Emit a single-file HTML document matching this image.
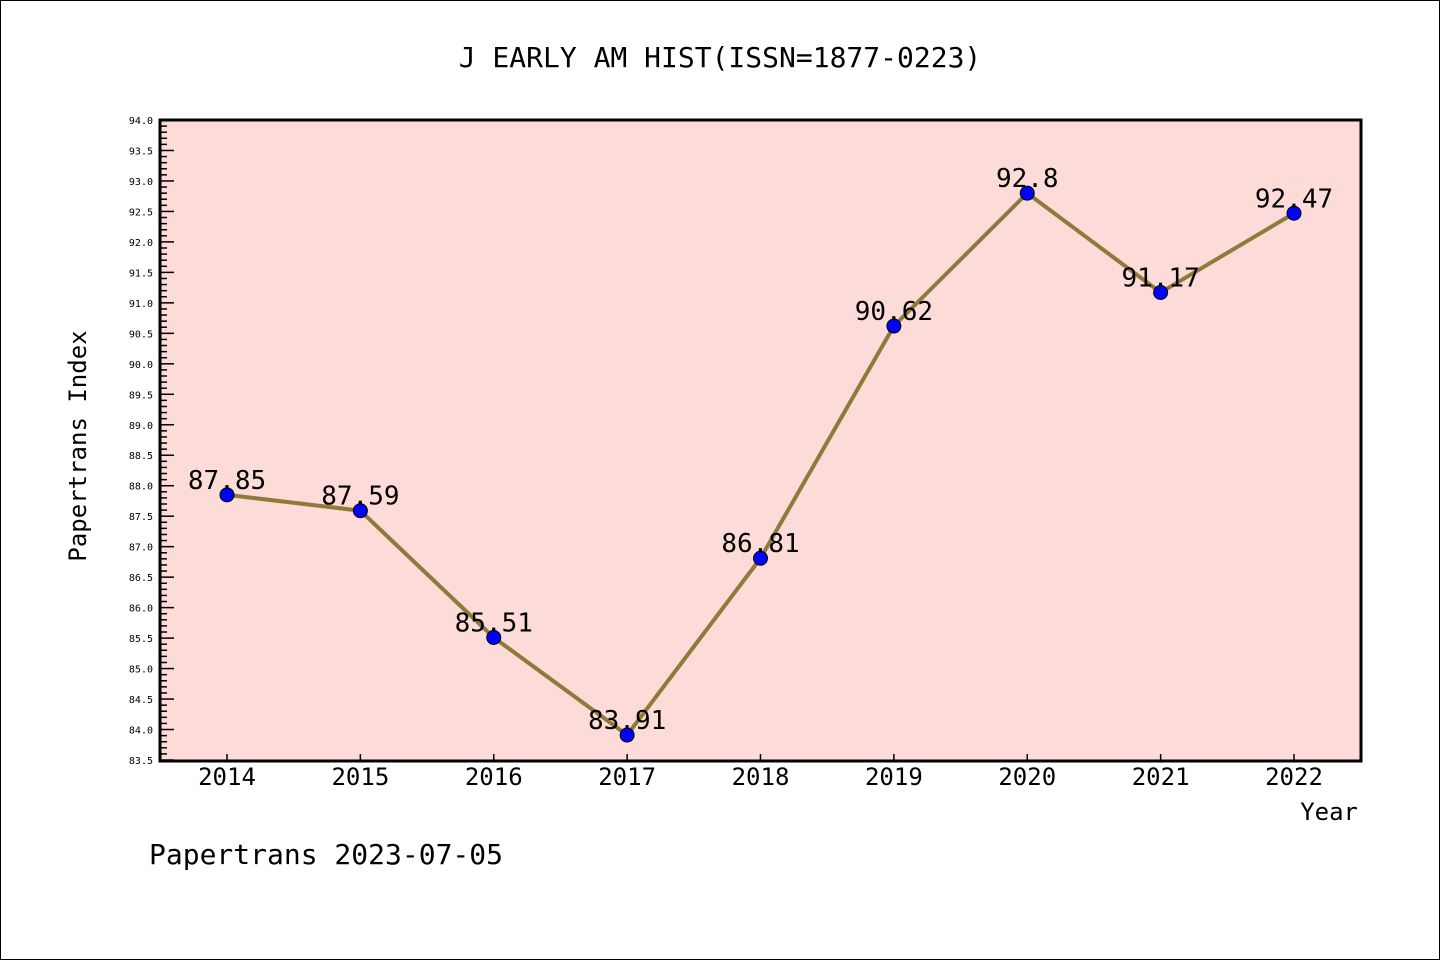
<!DOCTYPE html>
<html><head><meta charset="utf-8"><style>
body{margin:0;background:#fff}
svg{display:block;font-family:"DejaVu Sans Mono","Liberation Mono",monospace}
</style></head><body>
<svg width="1440" height="960">
<rect x="0.5" y="0.5" width="1439" height="959" fill="#fff" stroke="#000"/>
<text x="720" y="67" text-anchor="middle" font-size="28">J EARLY AM HIST(ISSN=1877-0223)</text>
<rect x="160" y="120" width="1201" height="641" fill="#fddbd8" stroke="#000" stroke-width="3"/>
<g id="yaxis"></g><g id="xaxis"></g><g id="series"></g>
<text x="86" y="446" transform="rotate(-90 86 446)" text-anchor="middle" font-size="24">Papertrans Index</text>
<text x="1358" y="820" text-anchor="end" font-size="24">Year</text>
<text x="149" y="864" font-size="28">Papertrans 2023-07-05</text>
</svg>
<script>
const years=[2014,2015,2016,2017,2018,2019,2020,2021,2022];
const values=[87.85,87.59,85.51,83.91,86.81,90.62,92.8,91.17,92.47];
const valueLabels=["87.85","87.59","85.51","83.91","86.81","90.62","92.8","91.17","92.47"];
const yMin=83.5,yMax=94.0;
const NS="http://www.w3.org/2000/svg";
const L=160,R=1361,T=120,B=760;
const xs=i=>227+i*(1294-227)/(years.length-1);
const ys=v=>B-(v-yMin)/(yMax-yMin)*(B-T);
function mk(t,a,p){const e=document.createElementNS(NS,t);for(const k in a)e.setAttribute(k,a[k]);p.appendChild(e);return e;}
const ya=document.getElementById('yaxis'),xa=document.getElementById('xaxis'),sg=document.getElementById('series');
for(let k=0;k<=Math.round((yMax-yMin)*10);k++){
 const v=yMin+k/10,y=ys(v),major=k%5===0;
 const t=mk('line',{x1:L,x2:L+(major?14:7),y1:y,y2:y,stroke:'#000','stroke-width':1.5},ya);
 
 
 if(major){const tx=mk('text',{x:153,y:y+4,'text-anchor':'end','font-size':10},ya);tx.textContent=v.toFixed(1);
 
 }
}
years.forEach((yr,i)=>{
 const x=xs(i);
 const t=mk('line',{x1:x,x2:x,y1:B,y2:B-6,stroke:'#000','stroke-width':1.5},xa);
 
 
 const tx=mk('text',{x:x,y:785,'text-anchor':'middle','font-size':24},xa);tx.textContent=yr;
 
 
});
const pl=mk('polyline',{points:values.map((v,i)=>xs(i)+','+ys(v)).join(' '),fill:'none',stroke:'#8e7b3a','stroke-width':4},sg);


values.forEach((v,i)=>{
 const c=mk('circle',{cx:xs(i),cy:ys(v),r:7,fill:'#0000ff',stroke:'#000','stroke-width':1},sg);
 
 
 const t=mk('text',{x:xs(i),y:ys(v)-6,'text-anchor':'middle','font-size':26},sg);t.textContent=valueLabels[i];
 
 
});
</script>
</body></html>
